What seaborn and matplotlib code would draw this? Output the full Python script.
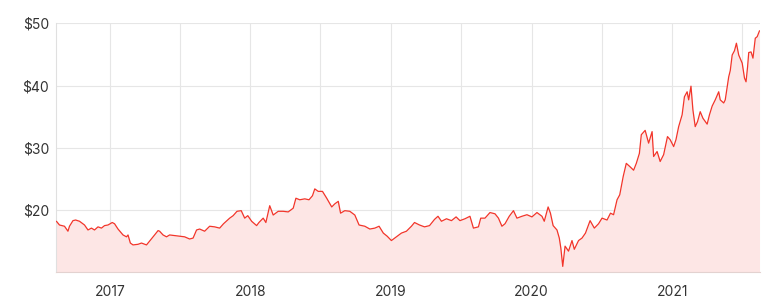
import matplotlib
matplotlib.use("Agg")
import matplotlib.pyplot as plt
import matplotlib.dates as mdates
import matplotlib.ticker as mticker
import seaborn as sns
import pandas as pd

dates = [
    "2016-08-15", "2016-08-23", "2016-09-05", "2016-09-14", "2016-09-18", "2016-09-27",
    "2016-10-04", "2016-10-14", "2016-10-27", "2016-11-05", "2016-11-14", "2016-11-22",
    "2016-12-01", "2016-12-10", "2016-12-18", "2016-12-27", "2017-01-07", "2017-01-13",
    "2017-01-22", "2017-02-04", "2017-02-13", "2017-02-17", "2017-02-23", "2017-03-02",
    "2017-03-15", "2017-03-24", "2017-04-06", "2017-04-14", "2017-04-27", "2017-05-06",
    "2017-05-10", "2017-05-19", "2017-05-28", "2017-06-05", "2017-06-18", "2017-07-01",
    "2017-07-14", "2017-07-27", "2017-08-05", "2017-08-14", "2017-08-22", "2017-09-04",
    "2017-09-17", "2017-09-30", "2017-10-13", "2017-10-23", "2017-11-08", "2017-11-17",
    "2017-11-27", "2017-12-08", "2017-12-17", "2017-12-25", "2018-01-04", "2018-01-17",
    "2018-01-23", "2018-02-03", "2018-02-10", "2018-02-20", "2018-03-01", "2018-03-14",
    "2018-03-27", "2018-04-09", "2018-04-22", "2018-04-29", "2018-05-09", "2018-05-22",
    "2018-06-02", "2018-06-11", "2018-06-17", "2018-06-26", "2018-07-07", "2018-07-18",
    "2018-07-31", "2018-08-08", "2018-08-17", "2018-08-23", "2018-09-03", "2018-09-16",
    "2018-09-29", "2018-10-10", "2018-10-25", "2018-11-07", "2018-11-20", "2018-12-01",
    "2018-12-12", "2018-12-22", "2019-01-02", "2019-01-15", "2019-01-28", "2019-02-10",
    "2019-02-23", "2019-03-03", "2019-03-16", "2019-03-29", "2019-04-11", "2019-04-24",
    "2019-05-03", "2019-05-12", "2019-05-25", "2019-06-07", "2019-06-19", "2019-06-29",
    "2019-07-12", "2019-07-25", "2019-08-03", "2019-08-16", "2019-08-22", "2019-09-02",
    "2019-09-15", "2019-09-28", "2019-10-07", "2019-10-16", "2019-10-24", "2019-11-04",
    "2019-11-15", "2019-11-24", "2019-12-07", "2019-12-20", "2020-01-02", "2020-01-15",
    "2020-01-28", "2020-02-03", "2020-02-13", "2020-02-19", "2020-02-26", "2020-03-07",
    "2020-03-13", "2020-03-17", "2020-03-22", "2020-03-28", "2020-04-06", "2020-04-15",
    "2020-04-21", "2020-05-02", "2020-05-11", "2020-05-20", "2020-06-01", "2020-06-12",
    "2020-06-23", "2020-07-02", "2020-07-15", "2020-07-24", "2020-08-01", "2020-08-10",
    "2020-08-17", "2020-08-26", "2020-09-03", "2020-09-12", "2020-09-22", "2020-09-29",
    "2020-10-07", "2020-10-12", "2020-10-22", "2020-10-31", "2020-11-09", "2020-11-13",
    "2020-11-22", "2020-11-30", "2020-12-09", "2020-12-19", "2020-12-26", "2021-01-04",
    "2021-01-10", "2021-01-17", "2021-01-26", "2021-02-01", "2021-02-08", "2021-02-12",
    "2021-02-18", "2021-02-23", "2021-03-01", "2021-03-07", "2021-03-14", "2021-03-21",
    "2021-04-01", "2021-04-07", "2021-04-14", "2021-04-22", "2021-05-01", "2021-05-05",
    "2021-05-14", "2021-05-18", "2021-05-27", "2021-05-31", "2021-06-05", "2021-06-11",
    "2021-06-16", "2021-06-22", "2021-07-01", "2021-07-07", "2021-07-11", "2021-07-15",
    "2021-07-18", "2021-07-24", "2021-07-29", "2021-08-04", "2021-08-09", "2021-08-15",
]

prices = [
    18.2, 17.6, 17.4, 16.6, 17.4, 18.3,
    18.4, 18.2, 17.6, 16.8, 17.1, 16.8,
    17.3, 17.1, 17.5, 17.6, 18.0, 17.8,
    16.95, 16.0, 15.7, 16.0, 14.7, 14.4,
    14.5, 14.7, 14.4, 15.0, 16.0, 16.7,
    16.6, 16.0, 15.7, 16.0, 15.9, 15.8,
    15.7, 15.35, 15.5, 16.8, 16.95, 16.6,
    17.4, 17.3, 17.1, 17.8, 18.7, 19.1,
    19.8, 19.9, 18.7, 19.1, 18.2, 17.5,
    18.0, 18.7, 18.0, 20.7, 19.2, 19.8,
    19.8, 19.7, 20.3, 21.9, 21.65, 21.8,
    21.65, 22.3, 23.4, 23.0, 23.0, 21.9,
    20.5, 21.0, 21.4, 19.5, 19.9, 19.8,
    19.2, 17.6, 17.4, 16.95, 17.1, 17.4,
    16.3, 15.8, 15.1, 15.7, 16.3, 16.6,
    17.4, 18.0, 17.6, 17.3, 17.5, 18.5,
    19.0, 18.2, 18.6, 18.3, 18.9, 18.3,
    18.6, 19.0, 17.1, 17.3, 18.7, 18.7,
    19.6, 19.4, 18.7, 17.4, 17.8, 19.0,
    19.9, 18.7, 19.0, 19.25, 18.9, 19.6,
    19.0, 18.2, 20.5, 19.5, 17.5, 16.8,
    15.5, 13.9, 10.95, 14.2, 13.4, 15.1,
    13.7, 15.1, 15.5, 16.3, 18.3, 17.1,
    17.8, 18.7, 18.4, 19.5, 19.25, 21.65,
    22.45, 25.4, 27.5, 27.0, 26.4, 27.5,
    29.1, 32.1, 32.8, 30.75, 32.6, 28.6,
    29.4, 27.8, 28.9, 31.8, 31.3, 30.2,
    31.3, 33.4, 35.3, 38.2, 39.0, 37.7,
    39.9, 36.1, 33.4, 34.2, 35.8, 34.75,
    33.8, 35.3, 36.7, 37.7, 39.0, 37.7,
    37.2, 37.7, 41.4, 42.4, 44.9, 45.6,
    46.8, 44.9, 43.6, 41.2, 40.6, 43.0,
    45.3, 45.4, 44.4, 47.6, 47.85, 48.8,
]

y_ticks = [20, 30, 40, 50]
x_labels = ["2017", "2018", "2019", "2020", "2021"]

df = pd.DataFrame({"date": pd.to_datetime(dates), "price": prices})

sns.set_theme(style="white")
plt.rcParams["font.family"] = ["Inter", "DejaVu Sans"]

fig = plt.figure(figsize=(7.77, 3.06), dpi=100)
ax = fig.add_axes([0.0721, 0.1101, 0.9054, 0.8138])

line_color = "#f2352a"
fill_color = "#fde6e5"

ax.fill_between(df["date"], df["price"], 10, color=fill_color, linewidth=0, zorder=1)
sns.lineplot(data=df, x="date", y="price", ax=ax, color=line_color, linewidth=0.9, zorder=3)

ax.set_xlim(pd.Timestamp("2016-08-14"), pd.Timestamp("2021-08-15"))
ax.set_ylim(10, 50)

ax.set_yticks(y_ticks)
ax.yaxis.set_major_formatter(mticker.FuncFormatter(lambda v, p: f"${v:.0f}"))

ax.xaxis.set_major_locator(mdates.MonthLocator(bymonth=[1, 7]))
def xfmt(v, p):
    d = mdates.num2date(v)
    return str(d.year) if d.month == 1 and str(d.year) in x_labels else ""
ax.xaxis.set_major_formatter(mticker.FuncFormatter(xfmt))

ax.grid(True, color="#e6e6e6", linewidth=0.8, zorder=0)
ax.set_axisbelow(True)

for s in ["top", "right"]:
    ax.spines[s].set_visible(False)
ax.spines["left"].set_color("#e0e0e0")
ax.spines["left"].set_linewidth(0.8)
ax.spines["bottom"].set_color("#e3d2d0")
ax.spines["bottom"].set_linewidth(0.8)

ax.tick_params(axis="both", length=0, labelsize=10, colors="#333333")
ax.tick_params(axis="y", pad=5)
ax.tick_params(axis="x", pad=9)
ax.set_xlabel("")
ax.set_ylabel("")

fig.savefig("out.png", dpi=100, facecolor="white")
